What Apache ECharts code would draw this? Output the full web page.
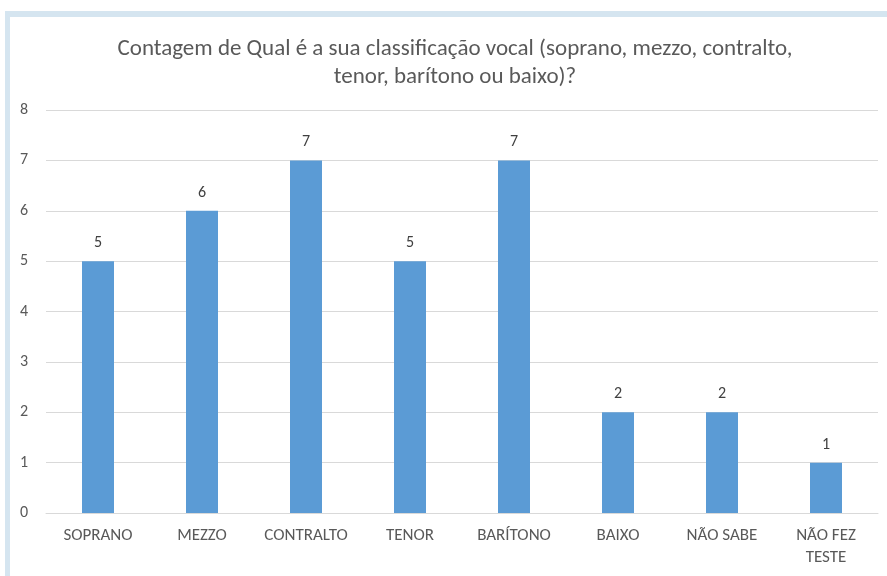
<!DOCTYPE html>
<html>
<head>
<meta charset="utf-8">
<script src="https://cdn.jsdelivr.net/npm/echarts@6/dist/echarts.min.js"></script>
<style>
  html, body { margin: 0; padding: 0; background: #fff; }
  #moldura {
    position: absolute; left: 5px; top: 11px; width: 890px; height: 580px;
    border-left: 5px solid #d5e5f0; border-top: 6px solid #d5e5f0;
  }
  #grafico { position: absolute; left: 0; top: 0; width: 887px; height: 576px; }
</style>
</head>
<body>
<div id="moldura"></div>
<div id="grafico"></div>
<script>
  // dados
  const categorias = ["SOPRANO", "MEZZO", "CONTRALTO", "TENOR", "BARÍTONO", "BAIXO", "NÃO SABE", "NÃO FEZ\nTESTE"]
  const contagens = [5, 6, 7, 5, 7, 2, 2, 1]
  const tituloLinhas = [
    "Contagem de Qual é a sua classificação vocal (soprano, mezzo, contralto,",
    "tenor, barítono ou baixo)?"
  ]

  const fonte = "Carlito, 'Open Sans', 'Liberation Sans', sans-serif"
  let myChart = echarts.init(document.getElementById("grafico"))

  let option = {
    backgroundColor: "transparent",
    textStyle: { fontFamily: fonte },
    title: {
      text: tituloLinhas.join("\n"),
      left: 450,
      textAlign: "center",
      top: 30,
      textStyle: {
        fontFamily: fonte,
        fontSize: 23,
        fontWeight: "normal",
        color: "#595959",
        lineHeight: 28,
      },
    },
    grid: {
      left: 46,
      right: 9,
      top: 110,
      bottom: 63,
    },
    xAxis: {
      type: "category",
      data: categorias,
      axisTick: { show: false },
      axisLine: { lineStyle: { color: "#d9d9d9", width: 1 } },
      axisLabel: {
        interval: 0,
        color: "#595959",
        fontSize: 17,
        margin: 12,
        lineHeight: 22,
      },
    },
    yAxis: {
      type: "value",
      min: 0,
      max: 8,
      interval: 1,
      axisLine: { show: false },
      axisTick: { show: false },
      axisLabel: { color: "#595959", fontSize: 16, margin: 18 },
      splitLine: { lineStyle: { color: "#d9d9d9", width: 1 } },
    },
    series: [
      {
        type: "bar",
        data: contagens,
        barWidth: 32,
        itemStyle: { color: "#5b9bd5" },
        label: {
          show: true,
          position: "top",
          distance: 10,
          color: "#404040",
          fontSize: 16,
        },
      },
    ],
  }

  option && myChart.setOption(option)
</script>
</body>
</html>
